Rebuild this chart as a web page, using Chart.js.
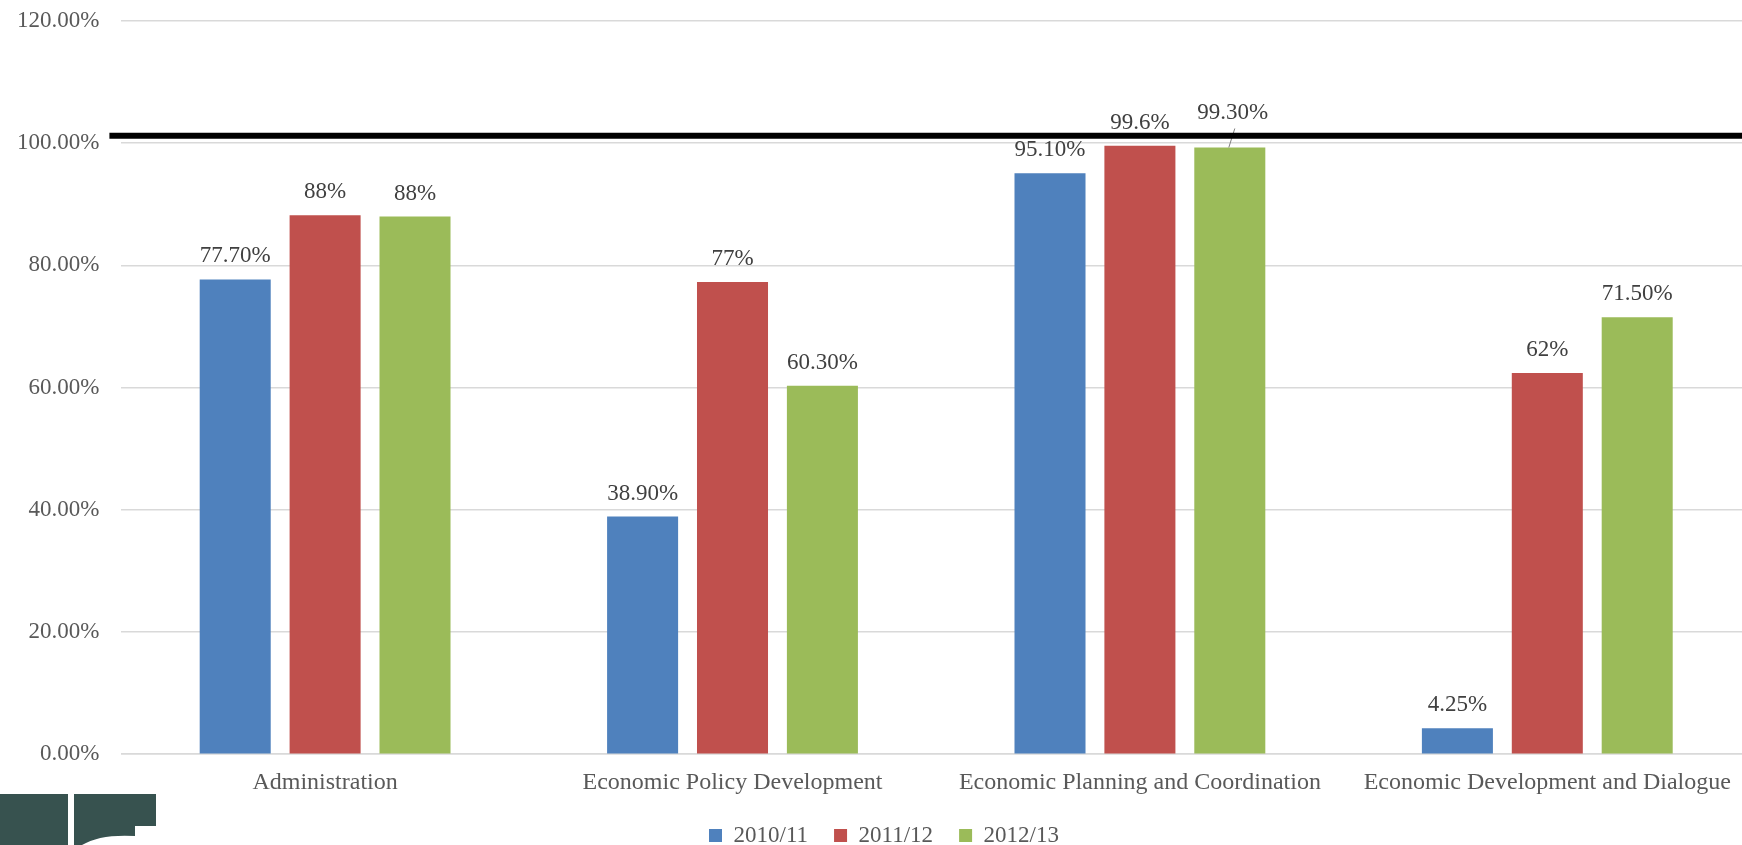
<!DOCTYPE html>
<html>
<head>
<meta charset="utf-8">
<script src="https://cdn.jsdelivr.net/npm/chart.js@4.4.1/dist/chart.umd.min.js"></script>
<style>
  html, body { margin: 0; padding: 0; background: #fff; overflow: hidden; }
  #wrap { width: 1751px; height: 845px; position: relative; }
</style>
</head>
<body>
<div id="wrap"><canvas id="myChart"></canvas></div>
<script>
const categories = ['Administration', 'Economic Policy Development', 'Economic Planning and Coordination', 'Economic Development and Dialogue'];
const seriesNames = ['2010/11', '2011/12', '2012/13'];

const values2010 = [77.7, 38.9, 95.1, 4.25];
const values2011 = [88.2, 77.3, 99.6, 62.4];
const values2012 = [88.0, 60.3, 99.3, 71.5];

const labels2010 = ['77.70%', '38.90%', '95.10%', '4.25%'];
const labels2011 = ['88%', '77%', '99.6%', '62%'];
const labels2012 = ['88%', '60.30%', '99.30%', '71.50%'];

const targetLine = 101.2;

const colors = ['#4f81bd', '#c0504d', '#9bbb59'];
const serif = "'Liberation Serif', 'Times New Roman', serif";

// value labels above each bar
const barLabels = {
  id: 'barLabels',
  afterDatasetsDraw(chart) {
    const c = chart.ctx;
    const all = [labels2010, labels2011, labels2012];
    c.save();
    c.font = '23px ' + serif;
    c.fillStyle = '#404040';
    c.textAlign = 'center';
    c.textBaseline = 'alphabetic';
    chart.data.datasets.forEach((ds, i) => {
      const meta = chart.getDatasetMeta(i);
      meta.data.forEach((bar, j) => {
        // the 99.30% label sits higher with a leader line
        if (i === 2 && j === 2) {
          c.strokeStyle = '#7f7f7f';
          c.lineWidth = 1;
          c.beginPath();
          c.moveTo(bar.x - 1, bar.y);
          c.lineTo(bar.x + 5, bar.y - 19);
          c.stroke();
          c.fillText(all[i][j], bar.x + 3, bar.y - 28);
          return;
        }
        c.fillText(all[i][j], bar.x, bar.y - 17);
      });
    });
    c.restore();
  }
};

// thick black reference line near 100%
const blackLine = {
  id: 'blackLine',
  afterDatasetsDraw(chart) {
    const c = chart.ctx;
    const y = chart.scales.y.getPixelForValue(targetLine);
    c.save();
    c.strokeStyle = '#000';
    c.lineWidth = 6;
    c.beginPath();
    c.moveTo(chart.chartArea.left - 12, y);
    c.lineTo(chart.width, y);
    c.stroke();
    c.restore();
  }
};

// logo fragment in the bottom-left corner
const logo = {
  id: 'logo',
  afterDraw(chart) {
    const c = chart.ctx;
    c.save();
    c.fillStyle = '#37524f';
    c.fillRect(0, 794, 68, 51);
    c.beginPath();
    c.moveTo(74, 794);
    c.lineTo(156, 794);
    c.lineTo(156, 826);
    c.lineTo(135, 826);
    c.lineTo(135, 836);
    c.quadraticCurveTo(100, 834, 82, 845);
    c.lineTo(74, 845);
    c.closePath();
    c.fill();
    c.restore();
  }
};

new Chart(document.getElementById('myChart'), {
  type: 'bar',
  data: {
    labels: categories,
    datasets: [
      { label: seriesNames[0], data: values2010, backgroundColor: colors[0] },
      { label: seriesNames[1], data: values2011, backgroundColor: colors[1] },
      { label: seriesNames[2], data: values2012, backgroundColor: colors[2] }
    ]
  },
  options: {
    responsive: true,
    maintainAspectRatio: false,
    animation: false,
    datasets: {
      bar: { barPercentage: 0.79, categoryPercentage: 0.662 }
    },
    layout: { padding: { top: 21, left: 17, right: 0, bottom: -12 } },
    plugins: {
      tooltip: { enabled: false },
      legend: {
        position: 'bottom',
        labels: {
          font: { family: serif, size: 23 },
          color: '#595959',
          boxWidth: 13,
          boxHeight: 13,
          padding: 26
        }
      }
    },
    scales: {
      x: {
        grid: { display: false, drawTicks: false },
        border: { color: '#d9d9d9', width: 1.5 },
        ticks: {
          font: { family: serif, size: 24 },
          color: '#595959',
          padding: 14,
          maxRotation: 0
        },
        afterFit: scale => { scale.height -= 13; }
      },
      y: {
        min: 0,
        max: 120,
        border: { display: false },
        grid: { color: '#d9d9d9', lineWidth: 1.5, drawTicks: true, tickLength: 22, tickColor: 'rgba(0,0,0,0)' },
        ticks: {
          stepSize: 20,
          font: { family: serif, size: 23 },
          color: '#595959',
          padding: 0,
          callback: v => v.toFixed(2) + '%'
        }
      }
    }
  },
  plugins: [barLabels, blackLine, logo]
});
</script>
</body>
</html>
